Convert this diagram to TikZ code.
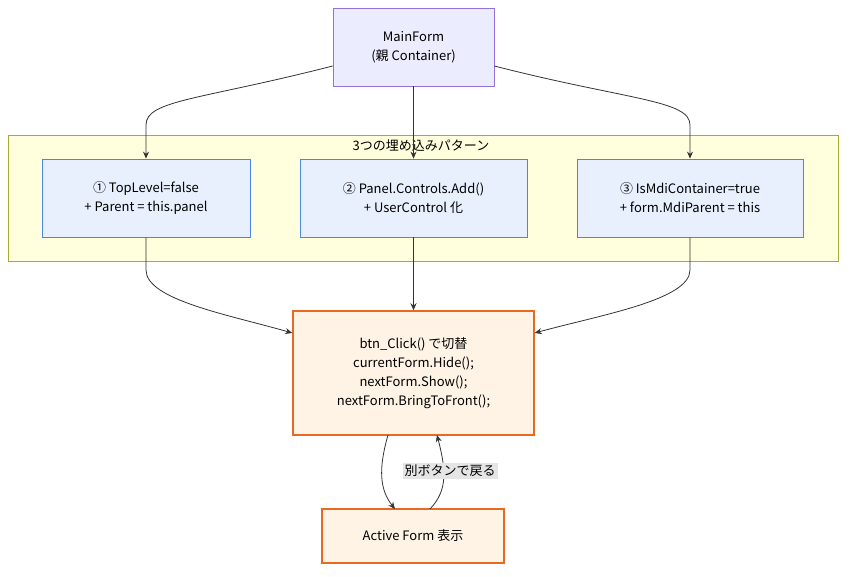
\documentclass[tikz,border=0pt]{standalone}
\usepackage{fontspec}
\setmainfont{Noto Sans CJK JP}
\usetikzlibrary{arrows.meta}
\definecolor{lav}{HTML}{ECECFF}\definecolor{lavb}{HTML}{9370DB}
\definecolor{yel}{HTML}{FFFFDE}\definecolor{yelb}{HTML}{AAAA33}
\definecolor{blu}{HTML}{E8F0FE}\definecolor{blub}{HTML}{4A86E8}
\definecolor{org}{HTML}{FFF3E6}\definecolor{orgb}{HTML}{E8691F}
\begin{document}
\begin{tikzpicture}[x=1pt,y=-1pt,font=\fontsize{13}{19}\selectfont,
 box/.style={draw,line width=0.8pt,align=center,inner sep=0pt},
 ar/.style={draw=black!80,line width=0.8pt,-{Stealth[length=7pt,width=6pt]}}]
\useasboundingbox (0,0) rectangle (854,576);
\node[box,fill=lav,draw=lavb,minimum width=161,minimum height=78] (m) at (413.5,47) {MainForm\\(親 Container)};
\node[draw=yelb,fill=yel,minimum width=830,minimum height=126,inner sep=0pt] (c) at (423,198) {};
\node (ct) at (421,146) {3つの埋め込みパターン};
\node[box,fill=blu,draw=blub,minimum width=208,minimum height=78] (b1) at (146,198) {① TopLevel=false\\+ Parent = this.panel};
\node[box,fill=blu,draw=blub,minimum width=227,minimum height=78] (b2) at (413.5,198) {② Panel.Controls.Add()\\+ UserControl 化};
\node[box,fill=blu,draw=blub,minimum width=226,minimum height=78] (b3) at (690,198) {③ IsMdiContainer=true\\+ form.MdiParent = this};
\node[box,fill=org,draw=orgb,line width=1.5pt,minimum width=241,minimum height=124] (o) at (413.5,373) {btn\_Click() で切替\\currentForm.Hide();\\nextForm.Show();\\nextForm.BringToFront();};
\node[box,fill=org,draw=orgb,line width=1.5pt,minimum width=182,minimum height=54] (a) at (413,536) {Active Form 表示};
\draw[ar] (m.west|-0,66) .. controls (200,100) and (146,100) .. (146,125) -- (b1.north);
\draw[ar] (m.east|-0,66) .. controls (627,100) and (690,100) .. (690,125) -- (b3.north);
\draw[ar] (m.south) -- (b2.north);
\draw[ar] (b1.south) -- (146,270) .. controls (146,300) and (230,315) .. (o.west|-0,333);
\draw[ar] (b3.south) -- (690,270) .. controls (690,300) and (600,315) .. (o.east|-0,333);
\draw[ar] (b2.south) -- (o.north);
\draw[ar] (388,435) .. controls (378,470) and (380,490) .. (395,509);
\draw[ar] (430,509) .. controls (448,490) and (446,470) .. (437,435);
\node[fill=black!10,inner sep=2pt] (l) at (450,471) {別ボタンで戻る};
\end{tikzpicture}
\end{document}
